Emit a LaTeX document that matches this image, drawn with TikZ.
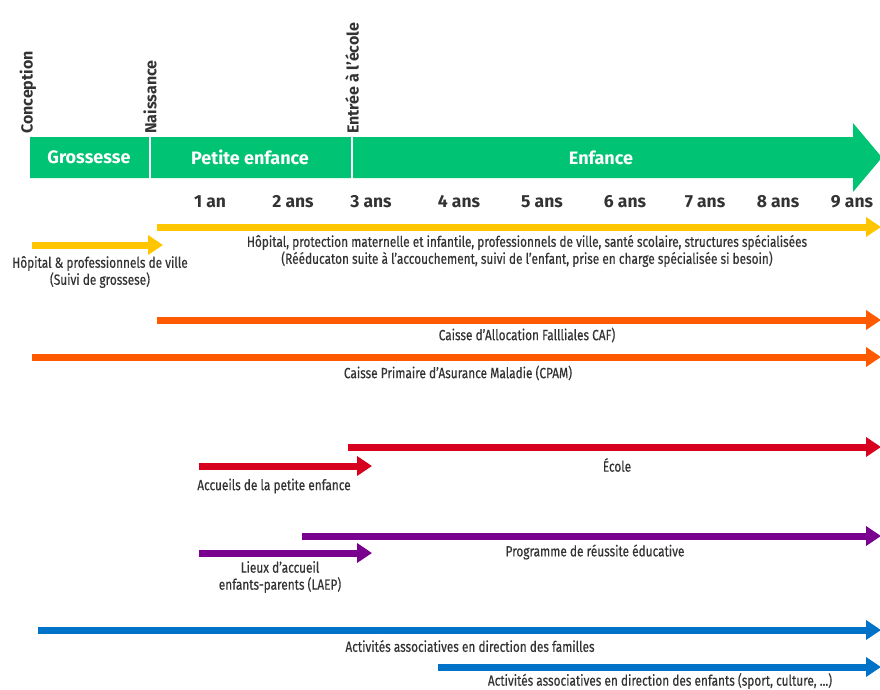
\documentclass[tikz,border=0pt]{standalone}
\usepackage{fontspec}
\setmainfont{Fira Sans}
\newfontfamily\etroit{Fira Sans}[FakeStretch=0.8, FakeBold=0.4]
\usetikzlibrary{arrows.meta}

\definecolor{vert}{HTML}{00C373}
\definecolor{jaune}{HTML}{FFC600}
\definecolor{orange}{HTML}{FF5A00}
\definecolor{rouge}{HTML}{D7001E}
\definecolor{violet}{HTML}{7A0090}
\definecolor{bleu}{HTML}{0073C8}
\definecolor{texte}{HTML}{333333}

\tikzset{
  piste/.style={line width=7pt, -{Triangle[length=15pt,width=19pt]}},
  legende/.style={font=\etroit\fontsize{14.8}{17}\selectfont, text=texte, align=center, inner sep=0pt},
  etape/.style={font=\bfseries\fontsize{16}{16}\selectfont, text=texte, rotate=90, anchor=west, inner sep=0pt},
  periode/.style={font=\bfseries\fontsize{18}{18}\selectfont, text=white, inner sep=0pt},
  age/.style={font=\bfseries\fontsize{17.5}{18}\selectfont, text=texte, inner sep=0pt}
}

\begin{document}
\begin{tikzpicture}[x=1pt, y=-1pt]
  \useasboundingbox (0,0) rectangle (880,689);

  % frise des periodes
  \fill[vert] (30,137) -- (853,137) -- (853,123) -- (882,157.5) -- (853,192)
    -- (853,178) -- (30,178) -- cycle;
  \draw[white, line width=2pt] (150,136) -- (150,179) (352,136) -- (352,179);
  \node[periode] (grossesse) at (89,157.5) {Grossesse};
  \node[periode] (petite) at (250,157.5) {Petite enfance};
  \node[periode] (enfance) at (601,157.5) {Enfance};

  \node[etape] (conception) at (28,134) {Conception};
  \node[etape] (naissance) at (150,134) {Naissance};
  \node[etape] (ecole) at (352,134) {Entrée à l’école};

  \foreach \xpos/\lab in {210/1 an, 293/2 ans, 371/3 ans, 459/4 ans, 542/5 ans,
    625/6 ans, 705/7 ans, 778/8 ans, 852/9 ans} {
    \node[age] at (\xpos,202) {\lab};
  }

  % dispositifs
  \foreach \nom/\xa/\xb/\yy/\coul in {
    hopital/157/881/227/jaune,
    suivi/32/163/245/jaune,
    caf/157/881/320/orange,
    cpam/32/881/357/orange,
    scol/348/881/447/rouge,
    accueil/199/372/466/rouge,
    pre/302/881/536/violet,
    laep/199/372/553/violet,
    familles/38/881/630/bleu,
    enfants/438/881/667/bleu} {
    \draw[piste, \coul] (\xa,\yy) coordinate (\nom-a) -- (\xb,\yy) coordinate (\nom-b);
  }

  \node[legende] (l-hopital) at (527,251) {Hôpital, protection maternelle et infantile, professionnels de ville, santé scolaire, structures spécialisées\\(Rééducaton suite à l’accouchement, suivi de l’enfant, prise en charge spécialisée si besoin)};
  \node[legende] (l-suivi) at (100,272) {Hôpital \& professionnels de ville\\(Suivi de grossese)};
  \node[legende] (l-caf) at (527,335) {Caisse d’Allocation Fallliales CAF)};
  \node[legende] (l-cpam) at (458,373) {Caisse Primaire d’Asurance Maladie (CPAM)};
  \node[legende] (l-scol) at (617,465) {École};
  \node[legende] (l-accueil) at (274,486) {Accueils de la petite enfance};
  \node[legende] (l-pre) at (595,552) {Programme de réussite éducative};
  \node[legende] (l-laep) at (280,577) {Lieux d’accueil\\enfants-parents (LAEP)};
  \node[legende] (l-familles) at (470,646) {Activités associatives en direction des familles};
  \node[legende] (l-enfants) at (660,681) {Activités associatives en direction des enfants (sport, culture, ...)};
\end{tikzpicture}
\end{document}
